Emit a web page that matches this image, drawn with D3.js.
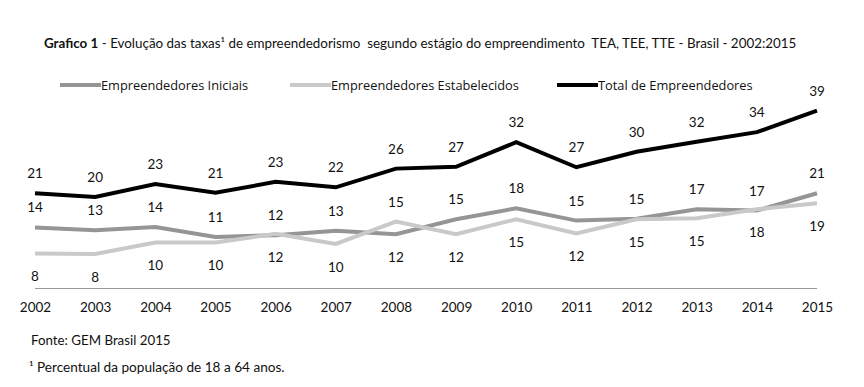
<!DOCTYPE html>
<html>
<head>
<meta charset="utf-8">
<script src="https://cdn.jsdelivr.net/npm/d3@7"></script>
<style>
  body { margin: 0; background: #fff; }
  svg { display: block; }
  text { font-family: Lato, "Open Sans", sans-serif; fill: #111; }
</style>
</head>
<body>
<svg id="chart"></svg>
<script>
// anos e séries
const years = ["2002", "2003", "2004", "2005", "2006", "2007", "2008",
               "2009", "2010", "2011", "2012", "2013", "2014", "2015"];
const tea = [13.5, 12.9, 13.6, 11.4, 11.8, 12.8, 12.0, 15.3, 17.7, 15.0, 15.4, 17.5, 17.2, 21.0];
const tee = [7.8, 7.7, 10.2, 10.2, 12.1, 9.9, 14.8, 12.0, 15.3, 12.2, 15.3, 15.5, 17.5, 18.8];
const tte = [21.0, 20.2, 23.0, 21.1, 23.5, 22.3, 26.4, 26.8, 32.2, 26.7, 30.1, 32.3, 34.4, 39.1];
const teaLabels = ["14", "13", "14", "11", "12", "13", "12", "15", "18", "15", "15", "17", "17", "21"];
const teeLabels = ["8", "8", "10", "10", "12", "10", "15", "12", "15", "12", "15", "15", "18", "19"];
const tteLabels = ["21", "20", "23", "21", "23", "22", "26", "27", "32", "27", "30", "32", "34", "39"];

// rótulos acima ou abaixo da linha; em 2008 as duas séries cinzas trocam de lado
const flipYears = new Set(["2008"]);
const series = [
  {name: "Empreendedores Iniciais", values: tea, labels: teaLabels, color: "#959595", above: true},
  {name: "Empreendedores Estabelecidos", values: tee, labels: teeLabels, color: "#c9c9c9", above: false},
  {name: "Total de Empreendedores", values: tte, labels: tteLabels, color: "#000", above: true, noFlip: true}
];

const width = 864, height = 387;

const svg = d3.select("#chart")
    .attr("width", width)
    .attr("height", height);

const x = d3.scalePoint()
    .domain(years)
    .range([35, 817]);

const y = d3.scaleLinear()
    .domain([0, 40])
    .range([289, 289 - 40 * 4.56]);

// título
const title = svg.append("text")
    .attr("x", 44)
    .attr("y", 48)
    .style("font-size", "13.4px")
    .attr("xml:space", "preserve");
title.append("tspan").style("font-weight", "bold").text("Grafico 1");
title.append("tspan").text(" - Evolução das taxas¹ de empreendedorismo  segundo estágio do empreendimento  TEA, TEE, TTE - Brasil - 2002:2015");

// legenda
const legendX = [60, 290, 557];
const legend = svg.selectAll("g.legend")
    .data(series)
    .enter()
    .append("g")
        .attr("class", "legend")
        .attr("transform", (d, i) => `translate(${legendX[i]}, 85)`);

legend.append("line")
    .attr("x1", 0).attr("x2", 41)
    .attr("stroke", d => d.color)
    .attr("stroke-width", 4);

legend.append("text")
    .attr("x", 41)
    .attr("y", 4.5)
    .style("font-family", "'Open Sans', sans-serif")
    .style("font-size", "12.8px")
    .text(d => d.name);

// eixo x
svg.append("line")
    .attr("x1", x(years[0])).attr("x2", x(years[years.length - 1]))
    .attr("y1", 288.5).attr("y2", 288.5)
    .attr("stroke", "#999")
    .attr("stroke-width", 1);

const xAxis = svg.append("g")
    .attr("transform", "translate(0, 289)")
    .call(d3.axisBottom(x).tickSize(0).tickPadding(13));
xAxis.select(".domain").remove();
xAxis.selectAll("text")
    .style("font-family", "Lato, sans-serif")
    .style("font-size", "13.5px")
    .attr("fill", "#111");

// linhas
const line = d3.line()
    .x((d, i) => x(years[i]))
    .y(d => y(d));

svg.selectAll("path.serie")
    .data(series)
    .enter()
    .append("path")
        .attr("class", "serie")
        .attr("d", d => line(d.values))
        .attr("fill", "none")
        .attr("stroke", d => d.color)
        .attr("stroke-width", 4);

// rótulos
series.forEach(s => {
    svg.append("g")
        .selectAll("text")
        .data(s.values)
        .enter()
        .append("text")
            .attr("x", (d, i) => x(years[i]))
            .attr("y", (d, i) => {
                let above = s.above;
                if (!s.noFlip && flipYears.has(years[i])) above = !above;
                return y(d) + (above ? -15 : 28);
            })
            .attr("text-anchor", "middle")
            .style("font-size", "13.5px")
            .text((d, i) => s.labels[i]);
});

// notas
svg.append("text")
    .attr("x", 31).attr("y", 345)
    .style("font-size", "13.3px")
    .text("Fonte: GEM Brasil 2015");
svg.append("text")
    .attr("x", 29).attr("y", 372)
    .style("font-size", "13.6px")
    .text("¹ Percentual da população de 18 a 64 anos.");
</script>
</body>
</html>
